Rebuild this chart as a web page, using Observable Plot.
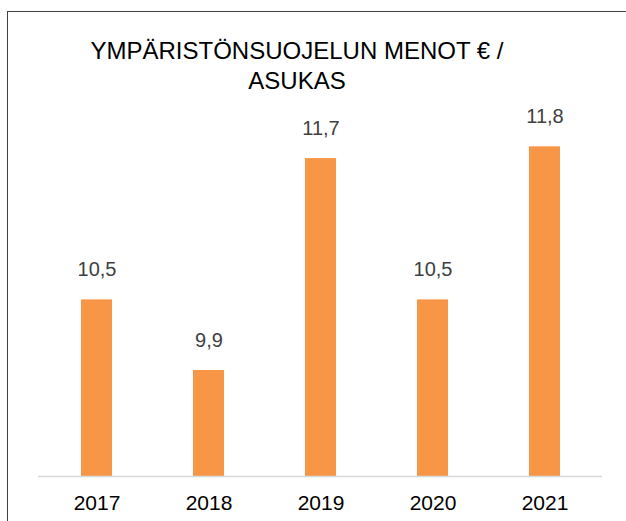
<!DOCTYPE html>
<html>
<head>
<meta charset="utf-8">
<script src="https://cdn.jsdelivr.net/npm/d3@7"></script>
<script src="https://cdn.jsdelivr.net/npm/@observablehq/plot@0.6"></script>
<style>
  html, body { margin: 0; padding: 0; background: #fff; }
  #wrap { position: relative; width: 626px; height: 521px; overflow: hidden; font-family: "Liberation Sans", Arial, sans-serif; background: #fff; border-left: 1px solid #404040; border-top: 1px solid #404040; box-sizing: border-box; margin-left: 7px; margin-top: 11px; }
  #title { position: absolute; left: 39px; width: 500px; top: 24px; text-align: center; font-size: 24px; line-height: 30px; color: #000; }
  #chart { position: absolute; left: -8px; top: -12px; }
</style>
</head>
<body>
<div id="wrap">
  <div id="chart"></div>
  <div id="title">YMPÄRISTÖNSUOJELUN MENOT € /<br>ASUKAS</div>
</div>
<script>
const years = ["2017", "2018", "2019", "2020", "2021"];
const values = [10.5, 9.9, 11.7, 10.5, 11.8];
const labels = ["10,5", "9,9", "11,7", "10,5", "11,8"];
const yDomain = [9, 13];

const data = years.map((y, i) => ({year: y, value: values[i], label: labels[i]}));

const chart = Plot.plot({
  width: 626,
  height: 521,
  marginLeft: 38,
  marginRight: 24,
  marginTop: 5,
  marginBottom: 45,
  style: {fontFamily: "'Liberation Sans', Arial, sans-serif", background: "transparent", overflow: "visible"},
  x: {domain: years, paddingInner: 0.725, paddingOuter: 0.3625, label: null},
  y: {domain: yDomain, axis: null},
  marks: [
    Plot.barY(data, {x: "year", y1: yDomain[0], y2: "value", fill: "#F79646"}),
    Plot.ruleY([yDomain[0]], {stroke: "#D9D9D9", strokeWidth: 1.5}),
    Plot.text(data, {x: "year", y: "value", text: "label", dy: -30, fill: "#404040", fontSize: 20}),
    Plot.axisX({tickSize: 0, tickPadding: 19, fontSize: 21, fill: "#000", label: null})
  ]
});
document.getElementById("chart").appendChild(chart);
</script>
</body>
</html>
